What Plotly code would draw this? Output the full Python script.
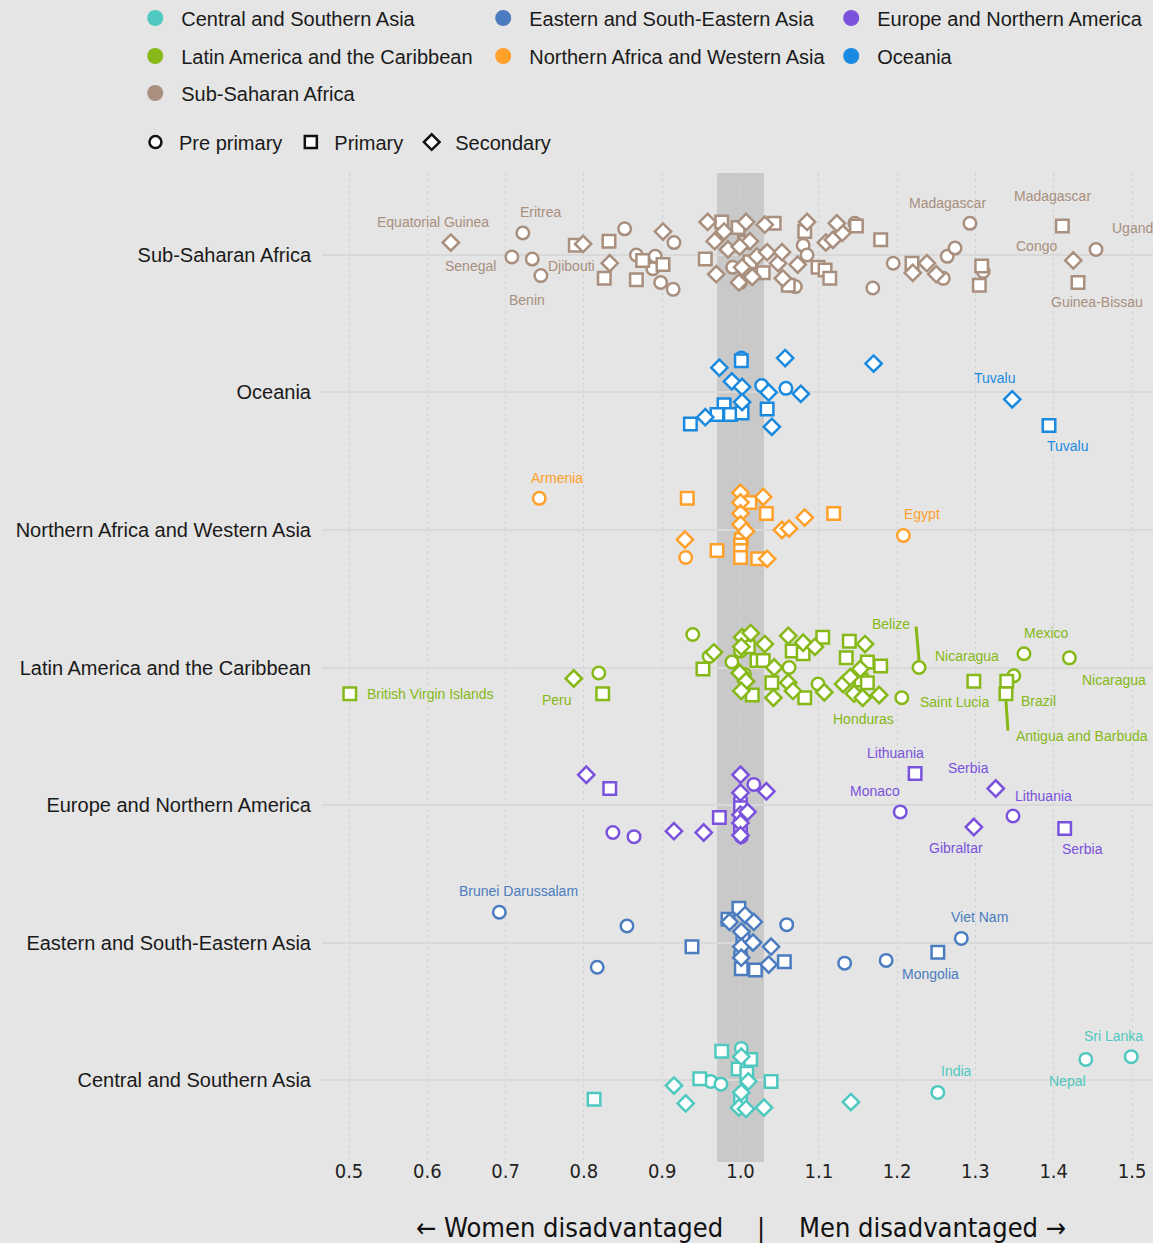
import plotly.graph_objects as go

# ---------------- data ----------------
regions = ["Central and Southern Asia", "Eastern and South-Eastern Asia",
           "Europe and Northern America", "Latin America and the Caribbean",
           "Northern Africa and Western Asia", "Oceania", "Sub-Saharan Africa"]
region_colors = ["#4fc9c0", "#4b7cc0", "#7a52dc", "#86b817", "#ffa02a", "#1a8ae0", "#a88f7e"]
levels = ["Pre primary", "Primary", "Secondary"]
tick_vals = [0.5, 0.6, 0.7, 0.8, 0.9, 1.0, 1.1, 1.2, 1.3, 1.4, 1.5]
tick_text = ["0.5", "0.6", "0.7", "0.8", "0.9", "1.0", "1.1", "1.2", "1.3", "1.4", "1.5"]

# gender parity index values (x) and vertical jitter within the row
csa_pre = [1.001, 0.962, 0.975, 1.252, 1.441, 1.499]
csa_pre_j = [0.23, -0.01, -0.03, -0.09, 0.15, 0.17]
csa_prim = [0.976, 1.013, 0.997, 0.948, 1.039, 0.813, 1.008, 1.000]
csa_prim_j = [0.21, 0.15, 0.08, 0.01, -0.01, -0.14, 0.05, -0.13]
csa_sec = [1.001, 0.915, 1.010, 0.930, 1.001, 0.998, 1.007, 1.030, 1.141]
csa_sec_j = [0.17, -0.04, -0.01, -0.17, -0.09, -0.20, -0.21, -0.20, -0.16]

esa_pre = [0.692, 0.855, 0.817, 1.059, 1.133, 1.186, 1.282, 1.000]
esa_pre_j = [0.22, 0.12, -0.18, 0.13, -0.15, -0.13, 0.03, -0.08]
esa_prim = [0.938, 0.998, 1.001, 1.019, 1.056, 1.252, 0.984, 1.003]
esa_prim_j = [-0.03, 0.25, -0.19, -0.20, -0.14, -0.07, 0.17, 0.04]
esa_sec = [0.986, 1.006, 1.017, 1.001, 1.001, 1.016, 1.039, 1.001, 1.036]
esa_sec_j = [0.15, 0.20, 0.15, 0.08, -0.03, 0.00, -0.03, -0.11, -0.16]

ena_pre = [0.837, 0.864, 1.017, 1.204, 1.348, 1.001, 1.006, 1.000]
ena_pre_j = [-0.20, -0.23, 0.15, -0.05, -0.08, -0.23, -0.05, 0.04]
ena_prim = [0.833, 0.973, 1.223, 1.414, 1.000, 1.000]
ena_prim_j = [0.12, -0.09, 0.23, -0.17, -0.02, -0.15]
ena_sec = [0.803, 0.915, 0.953, 1.033, 1.326, 1.298, 1.000, 1.000, 1.000, 1.000, 1.000, 1.009]
ena_sec_j = [0.22, -0.19, -0.20, 0.10, 0.12, -0.16, 0.22, 0.09, -0.07, -0.13, -0.22, -0.05]

lac_pre = [0.939, 0.960, 0.819, 0.989, 1.062, 1.099, 1.206, 1.228, 1.349, 1.362, 1.420, 1.000, 1.005]
lac_pre_j = [0.24, 0.08, -0.04, 0.04, 0.00, -0.12, -0.22, 0.00, -0.06, 0.10, 0.07, 0.12, -0.05]
lac_prim = [0.952, 0.501, 0.824, 1.021, 1.029, 1.066, 1.080, 1.105, 1.139, 1.135, 1.162,
            1.179, 1.015, 1.040, 1.082, 1.154, 1.162, 1.298, 1.340, 1.339, 1.010]
lac_prim_j = [-0.01, -0.19, -0.19, 0.05, 0.05, 0.12, 0.10, 0.22, 0.19, 0.07, 0.04,
              0.01, -0.20, -0.11, -0.22, -0.09, -0.11, -0.10, -0.10, -0.19, 0.15]
lac_sec = [0.966, 0.787, 1.002, 1.013, 1.001, 1.031, 1.061, 1.080, 1.095, 1.159, 0.999, 1.007,
           1.001, 1.043, 1.061, 1.067, 1.042, 1.107, 1.131, 1.140, 1.153, 1.145, 1.156, 1.177]
lac_sec_j = [0.11, -0.08, 0.22, 0.25, 0.15, 0.17, 0.23, 0.18, 0.15, 0.17, -0.04, -0.10,
             -0.17, 0.00, -0.11, -0.17, -0.22, -0.18, -0.12, -0.07, -0.01, -0.19, -0.22, -0.20]

nawa_pre = [0.743, 1.208, 0.930]
nawa_pre_j = [0.23, -0.04, -0.20]
nawa_prim = [0.932, 1.012, 1.033, 1.119, 0.970, 1.001, 1.000, 1.000, 1.000, 1.022]
nawa_prim_j = [0.23, 0.20, 0.12, 0.12, -0.15, -0.07, -0.11, -0.15, -0.20, -0.21]
nawa_sec = [1.000, 1.000, 1.000, 1.000, 1.007, 1.029, 1.082, 1.053, 1.062, 0.929, 1.034]
nawa_sec_j = [0.27, 0.20, 0.12, 0.04, -0.01, 0.24, 0.09, 0.00, 0.01, -0.07, -0.21]

oce_pre = [1.001, 1.027, 1.058]
oce_pre_j = [0.25, 0.05, 0.03]
oce_prim = [1.001, 0.979, 0.970, 0.987, 1.002, 0.936, 1.034, 1.394]
oce_prim_j = [0.23, -0.09, -0.16, -0.16, -0.15, -0.23, -0.12, -0.24]
oce_sec = [1.057, 1.170, 0.973, 0.989, 1.002, 1.036, 1.077, 1.002, 0.955, 1.040, 1.347]
oce_sec_j = [0.25, 0.21, 0.18, 0.08, 0.04, 0.00, -0.01, -0.07, -0.18, -0.25, -0.05]

ssa_pre = [0.722, 0.708, 0.734, 0.745, 0.852, 0.867, 0.891, 0.888, 0.915, 0.898, 0.914, 0.990, 1.000,
           1.061, 1.070, 1.080, 1.085, 1.146, 1.195, 1.169, 1.259, 1.264, 1.274, 1.293, 1.310, 1.454]
ssa_pre_j = [0.16, -0.015, -0.03, -0.15, 0.19, 0.00, -0.01, -0.10, 0.09, -0.20, -0.25, -0.09, -0.20,
             -0.22, -0.23, 0.07, 0.00, 0.23, -0.06, -0.24, -0.17, -0.01, 0.05, 0.23, -0.12, 0.04]
ssa_prim = [0.789, 0.832, 0.826, 0.875, 0.867, 0.901, 0.955, 0.976, 0.997, 1.005, 1.012, 1.029, 1.043,
            1.061, 1.082, 1.099, 1.108, 1.114, 1.148, 1.179, 1.219, 1.308, 1.305, 1.411, 1.431]
ssa_prim_j = [0.07, 0.10, -0.17, -0.04, -0.18, -0.07, -0.03, 0.24, 0.20, 0.09, -0.05, -0.13, 0.23,
              -0.22, 0.17, -0.09, -0.11, -0.17, 0.21, 0.11, -0.06, -0.08, -0.22, 0.21, -0.20]
ssa_sec = [0.630, 0.799, 0.833, 0.901, 0.969, 0.958, 0.979, 0.967, 0.984, 1.007, 1.012, 0.999, 1.002,
           1.015, 0.998, 1.021, 1.031, 1.034, 1.048, 1.053, 1.054, 1.073, 1.085, 1.109, 1.118, 1.130,
           1.123, 1.220, 1.238, 1.250, 1.425]
ssa_sec_j = [0.09, 0.08, -0.06, 0.17, -0.14, 0.24, 0.17, 0.10, 0.04, 0.24, 0.10, 0.06, -0.09,
             -0.16, -0.20, -0.01, 0.22, 0.02, -0.06, 0.02, -0.17, -0.07, 0.24, 0.09, 0.11, 0.16,
             0.23, -0.13, -0.06, -0.14, -0.04]

series = [
    [(csa_pre, csa_pre_j), (csa_prim, csa_prim_j), (csa_sec, csa_sec_j)],
    [(esa_pre, esa_pre_j), (esa_prim, esa_prim_j), (esa_sec, esa_sec_j)],
    [(ena_pre, ena_pre_j), (ena_prim, ena_prim_j), (ena_sec, ena_sec_j)],
    [(lac_pre, lac_pre_j), (lac_prim, lac_prim_j), (lac_sec, lac_sec_j)],
    [(nawa_pre, nawa_pre_j), (nawa_prim, nawa_prim_j), (nawa_sec, nawa_sec_j)],
    [(oce_pre, oce_pre_j), (oce_prim, oce_prim_j), (oce_sec, oce_sec_j)],
    [(ssa_pre, ssa_pre_j), (ssa_prim, ssa_prim_j), (ssa_sec, ssa_sec_j)],
]

# labelled countries: region index, name, value, jitter, text offset (px right, px down), anchor
labels = [
    (6, "Equatorial Guinea", 0.630, 0.09, -18, -21, "center"),
    (6, "Eritrea", 0.722, 0.16, 18, -21, "center"),
    (6, "Senegal", 0.708, -0.015, -41, 9, "center"),
    (6, "Benin", 0.745, -0.15, -14, 24, "center"),
    (6, "Djibouti", 0.789, 0.07, -4, 21, "center"),
    (6, "Madagascar", 1.293, 0.23, -22, -20, "center"),
    (6, "Madagascar", 1.411, 0.21, -10, -30, "center"),
    (6, "Congo", 1.425, -0.04, -37, -14, "center"),
    (6, "Uganda", 1.454, 0.04, 14, -21, "left"),
    (6, "Guinea-Bissau", 1.431, -0.20, 19, 20, "center"),
    (5, "Tuvalu", 1.347, -0.05, -17, -21, "center"),
    (5, "Tuvalu", 1.394, -0.24, 19, 21, "center"),
    (4, "Armenia", 0.743, 0.23, 18, -20, "center"),
    (4, "Egypt", 1.208, -0.04, 19, -21, "center"),
    (3, "British Virgin Islands", 0.501, -0.19, 15, 0, "left"),
    (3, "Peru", 0.787, -0.08, -17, 21, "center"),
    (3, "Belize", 1.228, 0.00, -28, -44, "center"),
    (3, "Nicaragua", 1.298, -0.10, -7, -25, "center"),
    (3, "Saint Lucia", 1.298, -0.10, -19, 21, "center"),
    (3, "Honduras", 1.156, -0.22, 1, 21, "center"),
    (3, "Mexico", 1.362, 0.10, 23, -21, "center"),
    (3, "Nicaragua", 1.420, 0.07, 45, 22, "center"),
    (3, "Brazil", 1.340, -0.10, 32, 20, "center"),
    (3, "Antigua and Barbuda", 1.339, -0.19, 8, 42, "left"),
    (2, "Lithuania", 1.223, 0.23, -20, -20, "center"),
    (2, "Monaco", 1.204, -0.05, -25, -21, "center"),
    (2, "Serbia", 1.326, 0.12, -27, -21, "center"),
    (2, "Gibraltar", 1.298, -0.16, -18, 21, "center"),
    (2, "Lithuania", 1.348, -0.08, 30, -20, "center"),
    (2, "Serbia", 1.414, -0.17, 18, 21, "center"),
    (1, "Brunei Darussalam", 0.692, 0.22, 19, -21, "center"),
    (1, "Viet Nam", 1.282, 0.03, 18, -21, "center"),
    (1, "Mongolia", 1.252, -0.07, -7, 22, "center"),
    (0, "India", 1.252, -0.09, 19, -21, "center"),
    (0, "Nepal", 1.441, 0.15, -18, 22, "center"),
    (0, "Sri Lanka", 1.499, 0.17, -18, -21, "center"),
]
# leader lines: region index, value, jitter, (x0, y0, x1, y1) pixel offsets (y up)
leaders = [
    (3, 1.228, 0.00, (-3, 41, 0, 7)),
    (3, 1.339, -0.19, (0, -7, 2, -37)),
]

# ---------------- figure ----------------
SANS = "Liberation Sans, Arial, sans-serif"
COND = "Liberation Sans Narrow, DejaVu Sans Condensed, Open Sans, sans-serif"
symbols = ["circle", "square", "diamond"]

fig = go.Figure()
for r, name in enumerate(regions):
    for l, lev in enumerate(levels):
        xs, js = series[r][l]
        assert len(xs) == len(js)
        fig.add_trace(go.Scatter(
            x=xs, y=[r + j for j in js], mode="markers", showlegend=False,
            name=f"{name} – {lev}", cliponaxis=False,
            marker=dict(symbol=symbols[l], size=12.5, color="white",
                        line=dict(color=region_colors[r], width=2.5)),
            hovertemplate=f"{name}<br>{lev}: %{{x:.3f}}<extra></extra>"))

# legend entries (regions on three rows, levels on a fourth)
legend_rows = ["legend", "legend", "legend", "legend2", "legend2", "legend2", "legend3"]
for r, name in enumerate(regions):
    fig.add_trace(go.Scatter(x=[None], y=[None], mode="markers", name=name,
                             legend=legend_rows[r],
                             marker=dict(symbol="circle", size=16, color=region_colors[r])))
for l, lev in enumerate(levels):
    fig.add_trace(go.Scatter(x=[None], y=[None], mode="markers", name=lev, legend="legend4",
                             marker=dict(symbol=symbols[l], size=12, color="white",
                                         line=dict(color="#111111", width=2.5))))

annotations = []
for r, txt, v, j, dx, dy, anc in labels:
    annotations.append(dict(x=v, y=r + j, xref="x", yref="y", text=txt, showarrow=False,
                            xanchor=anc, yanchor="middle", xshift=dx, yshift=-dy,
                            font=dict(family=SANS, size=14, color=region_colors[r])))

# axis direction caption
cap_font = dict(family=COND, size=27, color="#111111")
annotations += [
    dict(x=0.980, y=-0.0667, xref="x", yref="paper", text="← Women disadvantaged",
         showarrow=False, xanchor="right", yanchor="middle", font=cap_font),
    dict(x=1.026, y=-0.0667, xref="x", yref="paper", text="|",
         showarrow=False, xanchor="center", yanchor="middle", font=cap_font),
    dict(x=1.072, y=-0.0667, xref="x", yref="paper", text="Men disadvantaged →",
         showarrow=False, xanchor="left", yanchor="middle", font=cap_font),
]

shapes = [dict(type="rect", xref="x", yref="paper", x0=0.97, x1=1.03, y0=0, y1=1,
               fillcolor="#c9c9c9", line=dict(width=0), layer="below")]
for r, v, j, (x0, y0, x1, y1) in leaders:
    shapes.append(dict(type="line", xref="x", yref="y", xsizemode="pixel", ysizemode="pixel",
                       xanchor=v, yanchor=r + j, x0=x0, y0=y0, x1=x1, y1=y1,
                       line=dict(color=region_colors[r], width=3)))

leg_common = dict(orientation="h", xanchor="left", yanchor="middle", x=-0.232,
                  font=dict(family=SANS, size=20, color="#1a1a1a"),
                  bgcolor="rgba(0,0,0,0)", itemwidth=42, itemclick=False, itemdoubleclick=False)

fig.update_layout(
    width=1153, height=1243,
    margin=dict(l=322, r=0, t=173, b=81, autoexpand=False),
    paper_bgcolor="#e5e5e5", plot_bgcolor="#e5e5e5",
    xaxis=dict(range=[0.4655, 1.5268], tickvals=tick_vals, ticktext=tick_text,
               showgrid=True, gridcolor="#d2d2d2", griddash="dot", gridwidth=1,
               zeroline=False, showline=False, ticks="", ticklabelstandoff=-5,
               tickfont=dict(family=COND, size=20, color="#222222")),
    yaxis=dict(range=[-0.596, 6.596], tickvals=list(range(len(regions))), ticktext=regions,
               showgrid=True, gridcolor="#d9d9d9", gridwidth=1.5,
               zeroline=False, showline=False, ticks="", ticklabelstandoff=10,
               tickfont=dict(family=SANS, size=20, color="#1a1a1a")),
    legend=dict(leg_common, y=1.1567, entrywidth=291),
    legend2=dict(leg_common, y=1.1183, entrywidth=291),
    legend3=dict(leg_common, y=1.0809, entrywidth=291),
    legend4=dict(leg_common, y=1.0313, x=-0.2287, itemwidth=37),
    annotations=annotations, shapes=shapes,
    hovermode="closest",
)

fig.write_html("out.html", config={"displayModeBar": False},
               post_script="document.body.style.margin='0';document.body.style.overflow='hidden';")
